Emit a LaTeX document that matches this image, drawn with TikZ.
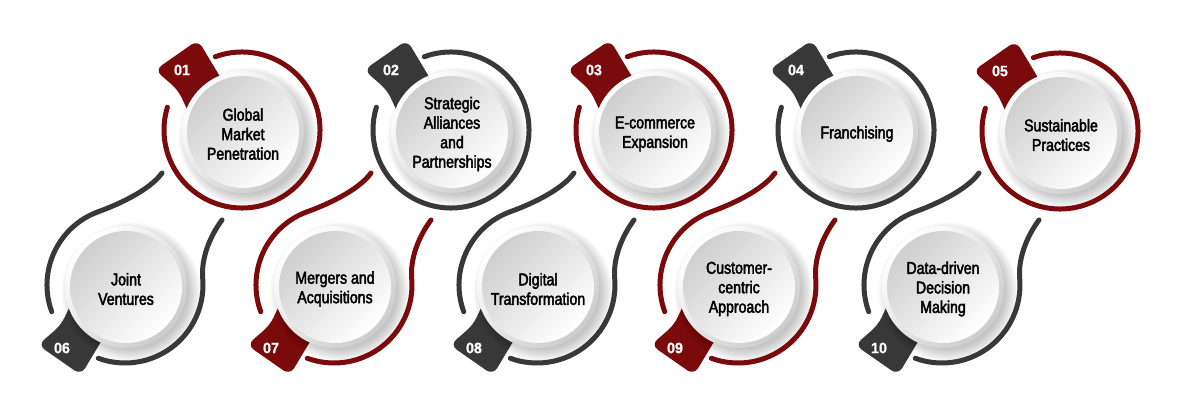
\documentclass[tikz,border=0pt]{standalone}
\usepackage{fontspec}
\setmainfont{Liberation Sans}[FakeStretch=0.83, FakeBold=2.5]
\newfontfamily\tagfont{Liberation Sans}[FakeStretch=0.95, FakeBold=1]
\usetikzlibrary{calc}
\definecolor{cred}{RGB}{122,10,12}
\definecolor{cdark}{RGB}{56,56,56}
\tikzset{
  ring/.style={line width=5pt, line cap=round},
  txt/.style={align=center, font=\fontsize{17}{19.5}\selectfont, text=black, inner sep=0pt},
  tagtxt/.style={font=\tagfont\bfseries\fontsize{15}{15}\selectfont, text=white, inner sep=0pt},
  tagshape/.style={rounded corners=8pt},
}
\newcommand\mydisc[1]{%
  \foreach \kk in {0,...,9}{\fill[black,opacity=0.024] ($(#1)+(6,-7)$) circle[radius=57+1.4*\kk];}
  \shade[top color=white, bottom color=gray!40, shading angle=45] ($(#1)+(1,-2)$) circle[radius=61];
  \shade[top color=gray!38, bottom color=white, shading angle=45] ($(#1)+(1,-2)$) circle[radius=56];
}
% #1 id, #2 x, #3 y, #4 colour, #5 number, #6 text
\newcommand\topitem[6]{%
  \coordinate (c#1) at (#2,#3);
  \fill[#4, tagshape] ($(c#1)+(-64,40)$) -- ($(c#1)+(-87,60)$) -- ($(c#1)+(-44,90)$) -- ($(c#1)+(-14,40)$) -- ($(c#1)+(-47,4)$) -- cycle;
  \mydisc{c#1}
  \draw[ring,#4] ($(c#1)+(110:78)$) arc[start angle=110, end angle=-197, radius=78];
  \node[tagtxt] (n#1) at ($(c#1)+(-60,60)$) {#5};
  \node[txt] (t#1) at ($(c#1)+(1,-4)$) {#6};
}
\newcommand\botitem[6]{%
  \coordinate (c#1) at (#2,#3);
  \fill[#4, tagshape] ($(c#1)+(-64,-40)$) -- ($(c#1)+(-87,-60)$) -- ($(c#1)+(-44,-90)$) -- ($(c#1)+(-14,-40)$) -- ($(c#1)+(-47,-4)$) -- cycle;
  \mydisc{c#1}
  \draw[ring,#4] ($(c#1)+(97,65)$) .. controls ($(c#1)+(85,49)$) and ($(c#1)+(76,26.7)$) .. ($(c#1)+(5:78)$) arc[start angle=5, end angle=-110, radius=78];
  \draw[ring,#4] ($(c#1)+(-160:78)$) arc[start angle=-160, end angle=-250, radius=78] .. controls ($(c#1)+(-3.2,81.8)$) and ($(c#1)+(25.4,95.8)$) .. ($(c#1)+(37,112)$);
  \node[tagtxt] (n#1) at ($(c#1)+(-63,-63)$) {#5};
  \node[txt] (t#1) at ($(c#1)+(1,-4)$) {#6};
}
\begin{document}
\begin{tikzpicture}[x=1pt,y=1pt]
\useasboundingbox (0,0) rectangle (1200,-414);
\fill[white] (0,0) rectangle (1200,-414);
\topitem{1}{242}{-130}{cred}{01}{Global\\Market\\Penetration}
\topitem{2}{451}{-130}{cdark}{02}{Strategic\\Alliances\\and\\Partnerships}
\topitem{3}{654}{-130}{cred}{03}{E-commerce\\Expansion}
\topitem{4}{856}{-130}{cdark}{04}{Franchising}
\topitem{5}{1060}{-131}{cred}{05}{Sustainable\\Practices}
\botitem{6}{125}{-285}{cdark}{06}{Joint\\Ventures}
\botitem{7}{334}{-285}{cred}{07}{Mergers and\\Acquisitions}
\botitem{8}{537}{-285}{cdark}{08}{Digital\\Transformation}
\botitem{9}{738}{-285}{cred}{09}{Customer-\\centric\\Approach}
\botitem{10}{942}{-285}{cdark}{10}{Data-driven\\Decision\\Making}
\end{tikzpicture}
\end{document}
